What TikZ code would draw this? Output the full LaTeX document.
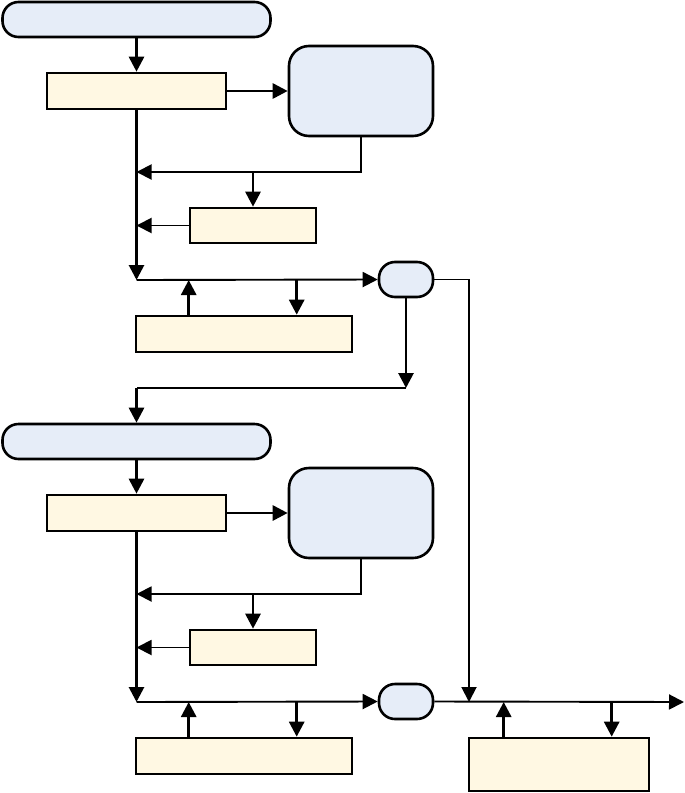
\documentclass[tikz,border=0pt]{standalone}
\usetikzlibrary{arrows.meta,calc}
\definecolor{paleblue}{HTML}{E6EDF8}
\definecolor{palecream}{HTML}{FFF8E3}
\begin{document}
\begin{tikzpicture}[x=1pt,y=-1pt,
  box/.style={draw,line width=2.6pt,inner sep=0pt,fill=palecream},
  term/.style={draw,line width=2.6pt,inner sep=0pt,fill=paleblue,rounded corners=16pt},
  flow/.style={line width=2.8pt,-{Triangle[length=15pt,width=15pt]}},
  link/.style={line width=1.9pt},
  linkarr/.style={link,-{Triangle[length=15pt,width=15pt]}}]
\useasboundingbox (0,0) rectangle (685,793);
%\draw[help lines] (0,0) grid[step=50] (685,793);
\foreach \b/\off in {1/0,2/422}{
  \node[term,minimum width=268pt,minimum height=35pt] (pill\b) at (136.5,{19.5+\off}) {};
  \node[box,minimum width=179pt,minimum height=36pt] (rect\b) at (136.5,{91+\off}) {};
  \node[term,rounded corners=20pt,minimum width=144pt,minimum height=90pt] (rbox\b) at (361,{91+\off}) {};
  \node[box,minimum width=126pt,minimum height=35pt] (srect\b) at (253,{225.5+\off}) {};
  \node[box,minimum width=216pt,minimum height=36pt] (brect\b) at (244,{334+\off}) {};
  \node[term,minimum width=54pt,minimum height=35pt] (spill\b) at (406,{279.5+\off}) {};
  \coordinate (fb\b) at (136.5,{172+\off});
  \coordinate (end\b) at (136.5,{280+\off});
  \draw[flow] (pill\b) -- (rect\b);
  \draw[flow] (rect\b) -- (rbox\b);
  \draw[flow] (rect\b.south) -- (end\b);
  \draw[linkarr] (rbox\b.south) |- (fb\b);
  \draw[flow] (srect\b.north |- fb\b) -- (srect\b.north);
  \draw[linkarr] (srect\b.west) -- (srect\b.west -| end\b);
  \draw[linkarr] (end\b) -- (spill\b.west);
  \draw[flow] ([xshift=54]brect\b.north west) -- ([xshift=54]brect\b.north west |- end\b);
  \draw[flow] ([xshift=162]brect\b.north west |- end\b) -- ([xshift=162]brect\b.north west);
}
\node[box,minimum width=180pt,minimum height=53pt] (rrect) at (559,764.5) {};
% between the two blocks
\coordinate (drop) at (406,388);
\draw[flow] (spill1.south) -- (drop);
\draw[link] (drop) -- (drop -| pill2.north);
\draw[flow] (drop -| pill2.north) -- (pill2.north);
% bypass and output
\coordinate (merge) at (469,702);
\coordinate (out) at (684,702);
\draw[linkarr] (spill1.east) -| (merge);
\draw[linkarr] (spill2.east) -- (out);
\draw[flow] ([xshift=36]rrect.north west) -- ([xshift=36]rrect.north west |- out);
\draw[flow] ([xshift=144]rrect.north west |- out) -- ([xshift=144]rrect.north west);
\end{tikzpicture}
\end{document}
